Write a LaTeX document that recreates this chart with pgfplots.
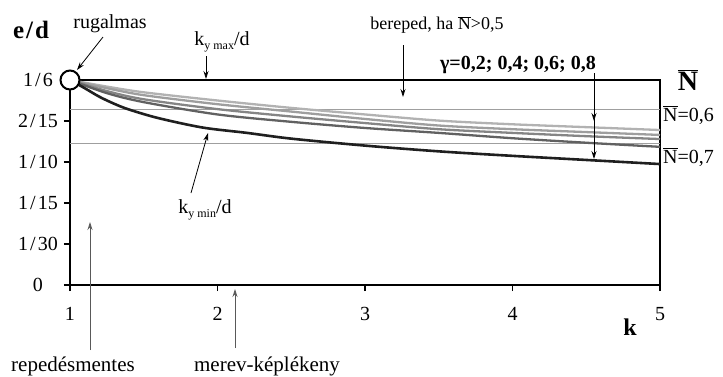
\documentclass[border=0pt]{standalone}
\usepackage{pgfplots}
\pgfplotsset{compat=1.18}
\usepackage{fontspec}
\setmainfont{Liberation Serif}
\usetikzlibrary{arrows.meta}

\newcommand{\Nbar}{$\overline{\mbox{N}}$}
\newcommand{\sfrac}[2]{#1\kern2pt/\kern2pt#2}

\begin{document}
\begin{tikzpicture}
\begin{axis}[
  width=590pt, height=205pt, scale only axis,
  xmin=1, xmax=5, ymin=0, ymax=5,
  clip=false,
  axis line style={line width=1.8pt},
  tick style={line width=1.8pt, black},
  tick align=outside, tick pos=left,
  major tick length=6pt,
  xtick={1,2,3,4,5}, xticklabels={1,2,3,4,5},
  ytick={0,1,2,3,4,5},
  yticklabels={0,\sfrac{1}{30},\sfrac{1}{15},\sfrac{1}{10},\sfrac{2}{15},\sfrac{1}{6}},
  ticklabel style={font=\fontsize{20}{23}\selectfont},
  xticklabel style={yshift=-13pt},
  yticklabel style={anchor=center, xshift=-26pt},
]
% reference levels
\addplot[gray!75, line width=0.9pt] coordinates {(1,4.29) (5,4.29)};
\addplot[gray!75, line width=0.9pt] coordinates {(1,3.46) (5,3.46)};
% k_y/d curves
\addplot[color=black!30, line width=2.3pt, smooth] coordinates {
 (1,5) (1.25,4.84) (1.5,4.70) (2,4.50) (2.5,4.32) (3,4.16) (3.5,4.01) (4,3.92) (4.5,3.85) (5,3.78)};
\addplot[color=black!38, line width=2.3pt, smooth] coordinates {
 (1,5) (1.25,4.80) (1.5,4.63) (2,4.41) (2.5,4.23) (3,4.05) (3.5,3.89) (4,3.80) (4.5,3.73) (5,3.66)};
\addplot[color=black!48, line width=2.3pt, smooth] coordinates {
 (1,5) (1.25,4.73) (1.5,4.53) (2,4.29) (2.5,4.11) (3,3.95) (3.5,3.80) (4,3.71) (4.5,3.63) (5,3.56)};
\addplot[color=black!62, line width=2.3pt, smooth] coordinates {
 (1,5) (1.25,4.68) (1.5,4.46) (2,4.16) (2.5,3.98) (3,3.83) (3.5,3.71) (4,3.58) (4.5,3.47) (5,3.37)};
\addplot[color=black!88, line width=2.6pt, smooth] coordinates {
 (1,5) (1.1,4.80) (1.2,4.59) (1.3,4.42) (1.4,4.28) (1.6,4.07) (1.9,3.84) (2.2,3.71)
 (2.5,3.57) (3,3.40) (3.5,3.26) (4,3.15) (4.5,3.05) (5,2.95)};
% elastic limit point
\addplot[only marks, mark=*, mark size=9.5pt,
  mark options={fill=white, draw=black, line width=2pt}] coordinates {(1,5)};
\coordinate (O) at (rel axis cs:0,0);
\end{axis}

% annotations, measured in pt from the top-left corner of the figure
\begin{scope}[shift={(O)}, x=1pt, y=1pt, shift={(-70,285)}, yscale=-1,
  every node/.style={font=\fontsize{20}{23}\selectfont, inner sep=0pt},
  arr/.style={-{Stealth[length=8pt,width=5pt]}, line width=0.8pt}]
  \pgfresetboundingbox
  \useasboundingbox (0,0) rectangle (723,376);
  \node at (31,30) {\fontsize{25}{27}\selectfont\bfseries e\kern2pt/\kern2pt d};
  \node at (110,24) {rugalmas};
  \draw[arr] (103,37) -- (77,70);
  \node at (222,42) {k\raisebox{-0.45ex}{\fontsize{12}{12}\selectfont y max}/d};
  \draw[arr] (206,56) -- (206,79);
  \node at (437,25) {\fontsize{18}{21}\selectfont bereped, ha \Nbar>0,5};
  \draw[arr] (403,45) -- (403,97);
  \node at (518,65) {\bfseries γ=0,2; 0,4; 0,6; 0,8};
  \draw[arr] (594,73) -- (594,121);
  \draw[arr] (594,119) -- (594,159);
  \node at (688,80) {\fontsize{28}{30}\selectfont\bfseries\Nbar};
  \node[anchor=west] at (663,115) {\Nbar=0,6};
  \node[anchor=west] at (663,157) {\Nbar=0,7};
  \node at (205,210) {k\raisebox{-0.45ex}{\fontsize{12}{12}\selectfont y min}/d};
  \draw[arr] (191,193) -- (208,133);
  \node at (630,327) {\fontsize{24}{26}\selectfont\bfseries k};
  \node at (73,366) {\fontsize{21}{24}\selectfont repedésmentes};
  \draw[arr, black!65] (90,350) -- (90,222);
  \node at (267,366) {\fontsize{21}{24}\selectfont merev-képlékeny};
  \draw[arr, black!65] (235,348) -- (235,289);
\end{scope}
\end{tikzpicture}
\end{document}
